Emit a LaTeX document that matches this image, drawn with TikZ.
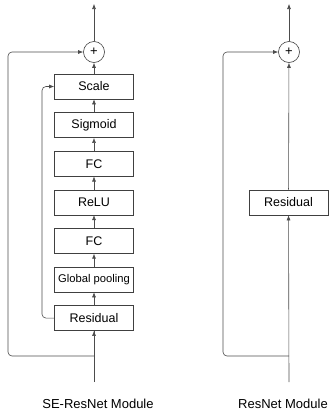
\documentclass[tikz,border=0pt]{standalone}
\usepackage{fontspec}
\setmainfont{Liberation Sans}
\usetikzlibrary{arrows.meta}

\begin{document}
\begin{tikzpicture}[x=1pt, y=-1pt,
        block/.style={draw=black!75, line width=0.6pt, minimum width=79pt, minimum height=25pt,
            inner sep=0pt, font=\fontsize{12.5}{14}\selectfont},
        small/.style={font=\fontsize{11.2}{13}\selectfont},
        sum/.style={draw=black!75, line width=0.6pt, circle, minimum size=21pt, inner sep=0pt,
            font=\fontsize{13}{14}\selectfont},
        arr/.style={-{Latex[length=5pt,width=4pt]}, line width=0.6pt, draw=black!70},
        wire/.style={line width=0.6pt, draw=black!70, rounded corners=4pt},
        caption/.style={font=\fontsize{13}{15}\selectfont}]
            \useasboundingbox (0,0) rectangle (332,418);

            % SE-ResNet module
            \node[sum] (plusL) at (94,52) {+};
            \node[block] (scale) at (94,86.5) {Scale};
            \node[block] (sigm) at (94,125.1) {Sigmoid};
            \node[block] (fcB) at (94,163.7) {FC};
            \node[block] (relu) at (94,202.3) {ReLU};
            \node[block] (fcA) at (94,240.9) {FC};
            \node[block, small] (pool) at (94,279.5) {Global pooling};
            \node[block] (resL) at (94,318.1) {Residual};
            \coordinate (outL) at (94,4);
            \coordinate (inL) at (94,382);
            \coordinate (splitL) at (94,356);
            \node[caption] (capL) at (98,404) {SE-ResNet Module};

            \draw[wire] (inL) -- (resL);
            \draw[arr] (splitL) -- (resL);
            \draw[arr] (resL) -- (pool);
            \draw[arr] (pool) -- (fcA);
            \draw[arr] (fcA) -- (relu);
            \draw[arr] (relu) -- (fcB);
            \draw[arr] (fcB) -- (sigm);
            \draw[arr] (sigm) -- (scale);
            \draw[arr] (scale) -- (plusL);
            \draw[arr] (plusL) -- (outL);
            \draw[wire, arr] (resL.west) -| (42,300) |- (scale.west);
            \draw[wire, arr] (splitL) -| (8,200) |- (plusL.west);

            % ResNet module
            \node[sum] (plusR) at (289,52) {+};
            \node[block] (resR) at (288.5,202.5) {Residual};
            \coordinate (outR) at (289,4);
            \coordinate (inR) at (289,382);
            \coordinate (splitR) at (289,356);
            \node[caption] (capR) at (283,404) {ResNet Module};

            \draw[arr] (inR) -- (resR);
            \draw[arr] (resR) -- (plusR);
            \draw[arr] (plusR) -- (outR);
            \draw[wire, arr] (splitR) -| (223,200) |- (plusR.west);
\end{tikzpicture}
\end{document}
